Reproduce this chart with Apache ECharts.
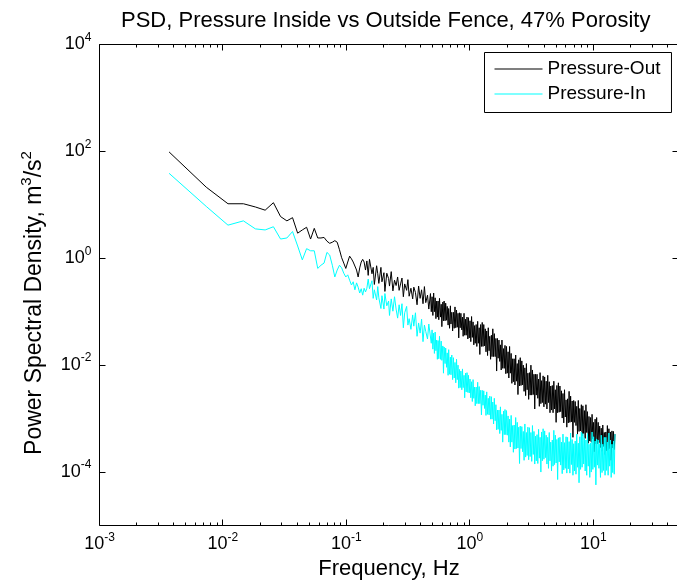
<!DOCTYPE html>
<html>
<head>
<meta charset="utf-8">
<title>PSD, Pressure Inside vs Outside Fence</title>
<script src="https://cdn.jsdelivr.net/npm/echarts@6/dist/echarts.min.js"></script>
<style>
html, body { margin: 0; padding: 0; background: #fff; }
#chart { width: 677px; height: 581px; }
</style>
</head>
<body>
<div id="chart"></div>
<script>
// PSD bin width: 30 Hz sampling, 8192 point segments
var binWidth = 30 / 8192;

// low end, every bin (values are log10 of the PSD)
var lowBins = [1, 2, 3, 4, 5, 6, 7, 8, 9, 10,
	11, 12, 13, 14, 15, 16, 17, 18, 19, 20,
	21, 22, 23, 24, 25, 26, 27, 28, 29, 30,
	31, 32, 33, 34, 35, 36, 37, 38, 39];
var lowOut = [1.99, 1.33, 1.02, 1.02, 0.96, 0.90, 1.04, 0.78, 0.70, 0.76,
	0.47, 0.53, 0.58, 0.36, 0.56, 0.38, 0.38, 0.39, 0.32, 0.28,
	0.30, 0.33, 0.30, 0.16, 0.01, -0.09, -0.19, -0.07, 0.04, -0.01,
	-0.07, -0.09, -0.22, -0.35, -0.18, -0.07, -0.02, -0.07, -0.22];
var lowIn = [1.59, 0.97, 0.62, 0.70, 0.55, 0.53, 0.59, 0.36, 0.38, 0.50,
	0.23, -0.03, 0.18, 0.14, 0.14, -0.19, -0.13, -0.09, 0.11, 0.06,
	-0.13, -0.35, -0.22, -0.13, -0.18, -0.28, -0.35, -0.31, -0.41, -0.50,
	-0.44, -0.59, -0.46, -0.54, -0.65, -0.57, -0.69, -0.56, -0.63];

// 0.15 - 0.47 Hz, bins about 1.5px apart
var midBins = [40, 41, 42, 44, 45, 46, 48, 49, 50, 52,
	53, 55, 56, 58, 60, 61, 63, 65, 67, 69,
	71, 73, 75, 77, 79, 81, 84, 86, 88, 91,
	94, 96, 99, 102, 105, 108, 111, 114, 117, 120,
	124, 127];
var midOut = [-0.05, -0.32, -0.02, -0.29, -0.17, -0.49, -0.14, -0.29, -0.47, -0.17,
	-0.44, -0.27, -0.62, -0.28, -0.38, -0.52, -0.25, -0.61, -0.41, -0.51,
	-0.35, -0.60, -0.48, -0.37, -0.72, -0.48, -0.60, -0.40, -0.71, -0.56,
	-0.76, -0.54, -0.64, -0.87, -0.52, -0.75, -0.59, -0.85, -0.53, -0.83,
	-0.69, -0.95];
var midIn = [-0.56, -0.39, -0.57, -0.42, -0.75, -0.59, -0.78, -0.53, -0.74, -0.94,
	-0.70, -0.95, -0.66, -0.89, -0.80, -1.07, -0.76, -0.99, -0.72, -0.95,
	-1.12, -0.87, -1.07, -0.85, -1.30, -1.02, -0.90, -1.25, -1.13, -1.33,
	-1.06, -1.27, -1.02, -1.46, -1.21, -1.40, -1.14, -1.56, -1.25, -1.37,
	-1.51, -1.23];

// 0.48 - 15 Hz, the dense noisy band, bins about 0.75px apart
var denseBins = [131, 133, 135, 137, 139, 141, 143, 145, 147, 149,
	151, 153, 155, 158, 160, 162, 165, 167, 169, 172,
	174, 177, 179, 182, 184, 187, 190, 192, 195, 198,
	201, 204, 207, 210, 213, 216, 219, 222, 225, 228,
	231, 235, 238, 241, 245, 248, 252, 255, 259, 263,
	266, 270, 274, 278, 282, 286, 290, 294, 298, 302,
	307, 311, 316, 320, 325, 329, 334, 339, 344, 349,
	354, 359, 364, 369, 374, 380, 385, 391, 396, 402,
	408, 413, 419, 425, 431, 438, 444, 450, 457, 463,
	470, 477, 483, 490, 497, 504, 512, 519, 526, 534,
	541, 549, 557, 565, 573, 581, 590, 598, 607, 615,
	624, 633, 642, 651, 661, 670, 680, 690, 699, 709,
	720, 730, 740, 751, 762, 773, 784, 795, 806, 818,
	830, 841, 853, 866, 878, 891, 903, 916, 929, 943,
	956, 970, 984, 998, 1012, 1027, 1041, 1056, 1071, 1087,
	1102, 1118, 1134, 1150, 1167, 1184, 1201, 1218, 1235, 1253,
	1271, 1289, 1308, 1326, 1345, 1365, 1384, 1404, 1424, 1445,
	1465, 1486, 1508, 1529, 1551, 1574, 1596, 1619, 1643, 1666,
	1690, 1714, 1739, 1764, 1789, 1815, 1841, 1868, 1894, 1922,
	1949, 1977, 2006, 2034, 2064, 2093, 2123, 2154, 2185, 2216,
	2248, 2280, 2313, 2347, 2380, 2415, 2449, 2485, 2520, 2557,
	2593, 2631, 2669, 2707, 2746, 2785, 2825, 2866, 2907, 2949,
	2991, 3034, 3078, 3122, 3167, 3213, 3259, 3306, 3353, 3401,
	3450, 3500, 3550, 3601, 3653, 3705, 3759, 3813, 3867, 3923,
	3979, 4036, 4094];
var denseOut = [-0.66, -1.00, -0.72, -1.07, -0.65, -1.00, -0.74, -1.13, -0.80, -1.10,
	-0.80, -1.15, -0.75, -1.10, -0.86, -1.28, -0.82, -1.17, -0.80, -1.17,
	-0.84, -1.16, -0.90, -1.25, -0.94, -1.31, -0.89, -1.23, -1.01, -1.36,
	-1.01, -1.31, -0.91, -1.30, -0.97, -1.29, -1.03, -1.49, -1.02, -1.30,
	-1.03, -1.34, -1.10, -1.46, -1.03, -1.44, -1.14, -1.44, -1.10, -1.51,
	-1.11, -1.49, -1.17, -1.56, -1.09, -1.48, -1.19, -1.62, -1.26, -1.59,
	-1.24, -1.65, -1.18, -1.59, -1.30, -1.80, -1.24, -1.65, -1.20, -1.65,
	-1.24, -1.64, -1.32, -1.75, -1.36, -1.82, -1.30, -1.73, -1.46, -1.89,
	-1.44, -1.84, -1.32, -1.84, -1.41, -1.84, -1.50, -2.11, -1.50, -1.87,
	-1.53, -1.93, -1.62, -2.09, -1.53, -2.06, -1.69, -2.06, -1.63, -2.16,
	-1.65, -2.15, -1.75, -2.24, -1.65, -2.15, -1.78, -2.34, -1.88, -2.31,
	-1.88, -2.37, -1.81, -2.30, -1.97, -2.55, -1.90, -2.39, -1.86, -2.38,
	-1.92, -2.37, -2.00, -2.49, -2.05, -2.57, -1.97, -2.46, -2.15, -2.64,
	-2.14, -2.56, -2.00, -2.56, -2.09, -2.55, -2.17, -2.82, -2.17, -2.56,
	-2.17, -2.62, -2.26, -2.77, -2.14, -2.72, -2.29, -2.70, -2.20, -2.78,
	-2.22, -2.73, -2.30, -2.82, -2.19, -2.70, -2.31, -2.89, -2.39, -2.84,
	-2.38, -2.89, -2.30, -2.82, -2.46, -3.07, -2.38, -2.89, -2.33, -2.88,
	-2.39, -2.87, -2.48, -2.99, -2.53, -3.08, -2.46, -2.97, -2.65, -3.16,
	-2.63, -3.08, -2.49, -3.07, -2.58, -3.06, -2.67, -3.35, -2.66, -3.07,
	-2.68, -3.13, -2.77, -3.29, -2.66, -3.24, -2.81, -3.23, -2.74, -3.32,
	-2.76, -3.28, -2.85, -3.37, -2.74, -3.26, -2.87, -3.46, -2.96, -3.42,
	-2.98, -3.44, -2.92, -3.38, -3.07, -3.62, -3.01, -3.47, -2.98, -3.47,
	-3.07, -3.45, -3.14, -3.54, -3.18, -3.61, -3.12, -3.52, -3.26, -3.67,
	-3.25, -3.60, -3.13, -3.58, -3.19, -3.56, -3.25, -3.78, -3.23, -3.55,
	-3.24, -3.58, -3.29];
var denseIn = [-1.25, -1.59, -1.34, -1.70, -1.40, -1.78, -1.38, -1.73, -1.53, -1.89,
	-1.54, -1.88, -1.46, -1.89, -1.55, -1.91, -1.64, -2.15, -1.66, -1.97,
	-1.68, -2.04, -1.77, -2.19, -1.71, -2.17, -1.85, -2.18, -1.81, -2.27,
	-1.86, -2.24, -1.95, -2.33, -1.89, -2.27, -2.00, -2.43, -2.08, -2.42,
	-2.11, -2.46, -2.07, -2.42, -2.19, -2.61, -2.15, -2.50, -2.14, -2.51,
	-2.19, -2.52, -2.26, -2.61, -2.31, -2.68, -2.27, -2.62, -2.41, -2.76,
	-2.41, -2.72, -2.32, -2.72, -2.40, -2.72, -2.47, -2.93, -2.47, -2.75,
	-2.48, -2.81, -2.56, -2.94, -2.50, -2.92, -2.62, -2.93, -2.58, -3.01,
	-2.59, -3.01, -2.69, -3.10, -2.62, -3.04, -2.74, -3.21, -2.84, -3.20,
	-2.84, -3.28, -2.78, -3.22, -2.92, -3.44, -2.86, -3.30, -2.83, -3.30,
	-2.85, -3.31, -2.95, -3.44, -3.01, -3.53, -2.94, -3.44, -3.13, -3.63,
	-3.12, -3.57, -2.98, -3.56, -3.07, -3.55, -3.16, -3.84, -3.14, -3.56,
	-3.15, -3.62, -3.24, -3.78, -3.10, -3.72, -3.26, -3.69, -3.16, -3.77,
	-3.17, -3.71, -3.26, -3.80, -3.13, -3.67, -3.24, -3.85, -3.33, -3.79,
	-3.30, -3.84, -3.20, -3.74, -3.35, -4.00, -3.25, -3.79, -3.19, -3.76,
	-3.23, -3.73, -3.31, -3.85, -3.35, -3.93, -3.26, -3.79, -3.44, -3.98,
	-3.40, -3.89, -3.22, -3.86, -3.31, -3.83, -3.39, -4.14, -3.36, -3.81,
	-3.35, -3.87, -3.44, -4.03, -3.29, -3.96, -3.45, -3.93, -3.34, -4.02,
	-3.35, -3.94, -3.43, -4.02, -3.27, -3.86, -3.39, -4.06, -3.47, -3.98,
	-3.42, -4.04, -3.29, -3.91, -3.46, -4.20, -3.34, -3.95, -3.25, -3.91,
	-3.28, -3.85, -3.36, -3.98, -3.40, -4.06, -3.28, -3.89, -3.48, -4.10,
	-3.46, -4.00, -3.25, -3.95, -3.34, -3.91, -3.42, -4.24, -3.38, -3.87,
	-3.40, -3.93, -3.48, -4.10, -3.31, -4.01, -3.48, -3.97, -3.35, -4.06,
	-3.35, -3.97, -3.44, -4.06, -3.27, -3.89, -3.40, -4.10, -3.48, -4.01,
	-3.42, -4.04, -3.29];

var seriesNames = ['Pressure-Out', 'Pressure-In'];
var xMin = 0.001, xMax = 49;
var yMin = 1e-5, yMax = 1e4;
var xDecades = [-3, -2, -1, 0, 1];
var xSteps = [1, 2, 3, 4, 5, 6, 7, 8, 9];
var yTickValues = [1e-4, 1e-2, 1, 1e2, 1e4];

var font = '"Liberation Sans", Arial, Helvetica, sans-serif';
var chart = echarts.init(document.getElementById('chart'));

function toPairs(bins, logs) {
	var pts = [];
	for (var i = 0; i < bins.length; i++) {
		pts.push([bins[i] * binWidth, Math.pow(10, logs[i])]);
	}
	return pts;
}
var allBins = lowBins.concat(midBins, denseBins);
var outData = toPairs(allBins, lowOut.concat(midOut, denseOut));
var inData = toPairs(allBins, lowIn.concat(midIn, denseIn));

// only label whole decades, as 10^n
function decadeLabel(v, keepOdd) {
	var lg = Math.log10(v);
	var e = Math.round(lg);
	if (Math.abs(lg - e) > 1e-6) return '';
	if (!keepOdd && e % 2 !== 0) return '';
	return '{b|10}{s|' + e + '}';
}
var tickRich = {
	b : { fontSize : 18, fontFamily : font, color : '#000', lineHeight : 26 },
	s : { fontSize : 12, fontFamily : font, color : '#000', lineHeight : 12, verticalAlign : 'top' }
};

var option = {
	animation : false,
	backgroundColor : '#fff',
	title : {
		text : 'PSD, Pressure Inside vs Outside Fence, 47% Porosity',
		left : 116,
		top : 5,
		textStyle : { fontSize : 22, fontWeight : 'normal', color : '#000', fontFamily : font }
	},
	grid : {
		left : 99.5, top : 44.5, width : 579, height : 481,
		show : true, borderColor : '#000', borderWidth : 1,
		outerBoundsMode : 'none'
	},
	legend : {
		left : 484.5, top : 52.5, orient : 'vertical',
		data : seriesNames,
		icon : 'path://M0,0H48V1H0Z',
		itemWidth : 48, itemHeight : 14, itemGap : 6,
		padding : [7, 11, 9, 10],
		borderColor : '#000', borderWidth : 1, backgroundColor : '#fff',
		selectedMode : false,
		textStyle : { fontSize : 19, fontFamily : font, color : '#000', lineHeight : 19 }
	},
	xAxis : {
		type : 'log', logBase : 10, min : xMin, max : xMax, interval : 1,
		axisLine : { show : false }, axisTick : { show : false }, splitLine : { show : false },
		axisLabel : {
			formatter : function (v) { return decadeLabel(v, true); },
			rich : tickRich, margin : 6, showMaxLabel : false
		},
		name : 'Frequency, Hz', nameLocation : 'middle', nameGap : 31,
		nameTextStyle : { fontSize : 22, fontFamily : font, color : '#000' }
	},
	yAxis : {
		type : 'log', logBase : 10, min : yMin, max : yMax, interval : 1,
		axisLine : { show : false }, axisTick : { show : false }, splitLine : { show : false },
		axisLabel : {
			formatter : function (v) { return decadeLabel(v, false); },
			rich : tickRich, margin : 8
		},
		name : '{n|Power Spectral Density, m}{s|3}{n|/s}{s|2}',
		nameLocation : 'middle', nameGap : 50, nameRotate : 90,
		nameTextStyle : {
			padding : [0, 36, 0, 0],
			rich : {
				n : { fontSize : 23, fontFamily : font, color : '#000', lineHeight : 30 },
				s : { fontSize : 15, fontFamily : font, color : '#000', lineHeight : 14, verticalAlign : 'top' }
			}
		}
	},
	series : [{
		name : seriesNames[0],
		type : 'line',
		data : outData,
		symbol : 'none',
		lineStyle : { color : '#000000', width : 1 },
		itemStyle : { color : '#000000' },
		silent : true,
		z : 2
	}, {
		name : seriesNames[1],
		type : 'line',
		data : inData,
		symbol : 'none',
		lineStyle : { color : '#00ffff', width : 1 },
		itemStyle : { color : '#00ffff' },
		silent : true,
		z : 3
	}]
};
chart.setOption(option);

// matlab style ticks: inward, all four sides, minor ticks at 2..9 on x
var gLeft = chart.convertToPixel({ xAxisIndex : 0 }, xMin);
var gRight = chart.convertToPixel({ xAxisIndex : 0 }, xMax);
var gTop = chart.convertToPixel({ yAxisIndex : 0 }, yMax);
var gBottom = chart.convertToPixel({ yAxisIndex : 0 }, yMin);
var ticks = [];
function tick(x1, y1, x2, y2) {
	ticks.push({
		type : 'line', silent : true, z : 10,
		shape : { x1 : x1, y1 : y1, x2 : x2, y2 : y2 },
		style : { stroke : '#000', lineWidth : 1 }
	});
}
xDecades.forEach(function (d) {
	xSteps.forEach(function (m) {
		var v = m * Math.pow(10, d);
		if (v > xMax) return;
		var px = Math.floor(chart.convertToPixel({ xAxisIndex : 0 }, v)) + 0.5;
		var len = m === 1 ? 6 : 3;
		tick(px, gBottom, px, gBottom - len);
		tick(px, gTop, px, gTop + len);
	});
});
yTickValues.forEach(function (v) {
	var py = Math.floor(chart.convertToPixel({ yAxisIndex : 0 }, v)) + 0.5;
	tick(gLeft, py, gLeft + 6, py);
	tick(gRight, py, gRight - 6, py);
});
chart.setOption({ graphic : ticks });
</script>
</body>
</html>
